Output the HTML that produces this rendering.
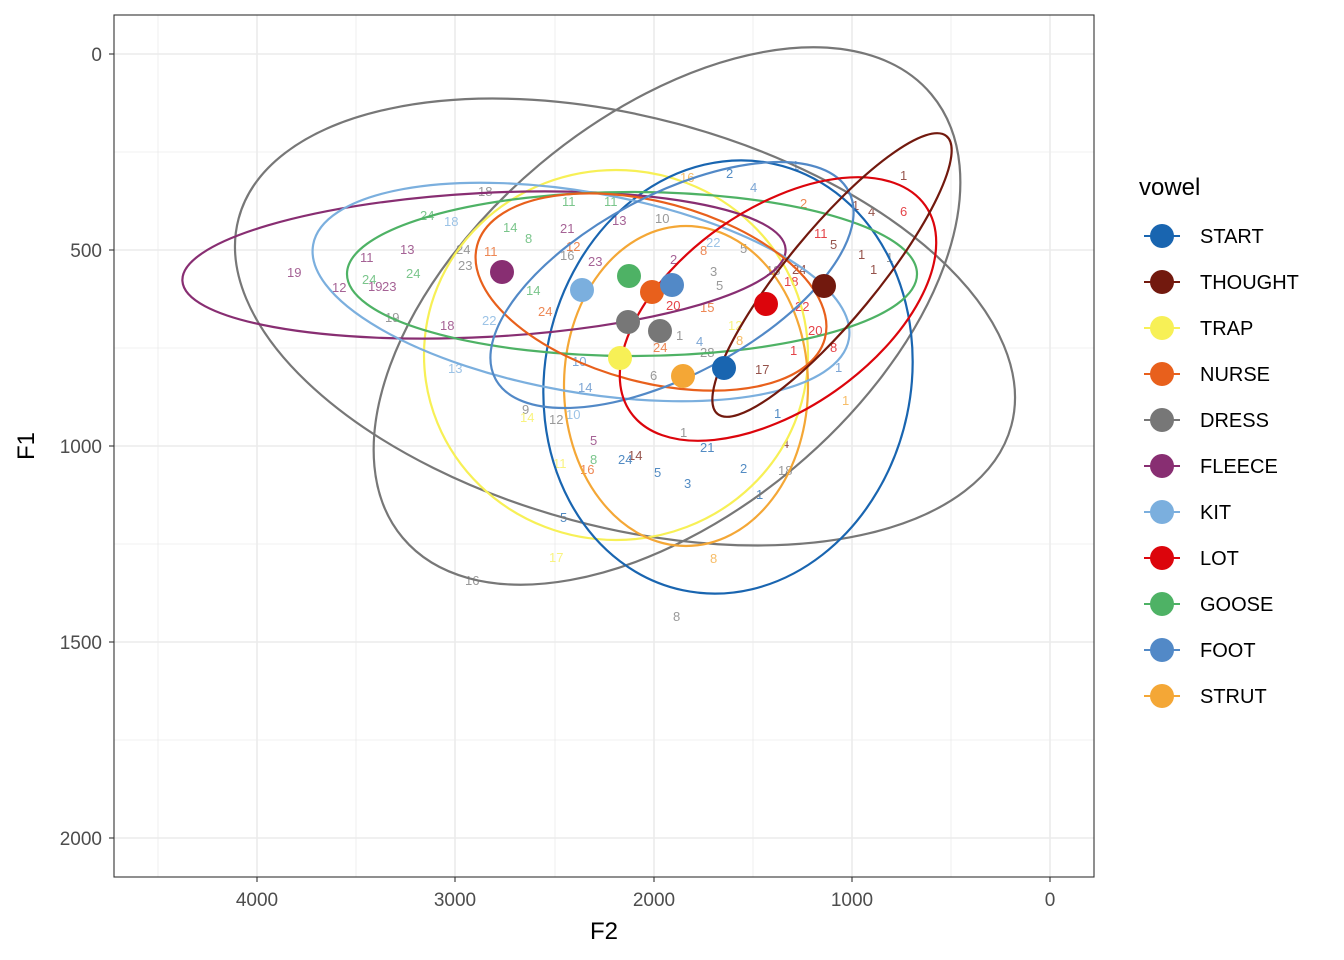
<!DOCTYPE html>
<html><head><meta charset="utf-8"><style>body{margin:0;background:#fff}svg{display:block;font-family:"Liberation Sans",sans-serif}</style></head>
<body>
<svg width="1344" height="960" xmlns="http://www.w3.org/2000/svg">
<rect width="1344" height="960" fill="#fff"/>
<g stroke="#ebebeb" stroke-width="0.8">
<line x1="158" y1="15" x2="158" y2="877"/><line x1="356" y1="15" x2="356" y2="877"/><line x1="555" y1="15" x2="555" y2="877"/><line x1="753" y1="15" x2="753" y2="877"/><line x1="951" y1="15" x2="951" y2="877"/>
<line x1="114" y1="152" x2="1094" y2="152"/><line x1="114" y1="348" x2="1094" y2="348"/><line x1="114" y1="544" x2="1094" y2="544"/><line x1="114" y1="740" x2="1094" y2="740"/>
</g>
<g stroke="#ebebeb" stroke-width="1.6">
<line x1="257" y1="15" x2="257" y2="877"/><line x1="455" y1="15" x2="455" y2="877"/><line x1="654" y1="15" x2="654" y2="877"/><line x1="852" y1="15" x2="852" y2="877"/><line x1="1050" y1="15" x2="1050" y2="877"/>
<line x1="114" y1="54" x2="1094" y2="54"/><line x1="114" y1="250" x2="1094" y2="250"/><line x1="114" y1="446" x2="1094" y2="446"/><line x1="114" y1="642" x2="1094" y2="642"/><line x1="114" y1="838" x2="1094" y2="838"/>
</g>
<g font-size="13" opacity="0.75">
<text x="287" y="277" fill="#882E72">19</text><text x="332" y="292" fill="#882E72">12</text><text x="360" y="262" fill="#882E72">11</text><text x="400" y="254" fill="#882E72">13</text><text x="368" y="291" fill="#882E72">19</text><text x="382" y="291" fill="#882E72">23</text>
<text x="362" y="284" fill="#4EB265">24</text><text x="406" y="278" fill="#4EB265">24</text><text x="440" y="330" fill="#882E72">18</text><text x="448" y="373" fill="#7BAFDE">13</text><text x="385" y="322" fill="#777">19</text>
<text x="478" y="196" fill="#777">18</text><text x="420" y="220" fill="#4EB265">24</text><text x="444" y="226" fill="#7BAFDE">18</text><text x="456" y="254" fill="#777">24</text><text x="458" y="270" fill="#777">23</text><text x="484" y="256" fill="#E8601C">11</text>
<text x="503" y="232" fill="#4EB265">14</text><text x="525" y="243" fill="#4EB265">8</text><text x="562" y="206" fill="#4EB265">11</text><text x="604" y="206" fill="#4EB265">11</text><text x="560" y="233" fill="#882E72">21</text><text x="612" y="225" fill="#882E72">13</text>
<text x="560" y="260" fill="#777">16</text><text x="566" y="251" fill="#E8601C">12</text><text x="588" y="266" fill="#882E72">23</text><text x="526" y="295" fill="#4EB265">14</text><text x="538" y="316" fill="#E8601C">24</text><text x="482" y="325" fill="#7BAFDE">22</text>
<text x="655" y="223" fill="#777">10</text><text x="670" y="264" fill="#882E72">2</text><text x="700" y="255" fill="#E8601C">8</text><text x="706" y="247" fill="#7BAFDE">22</text><text x="680" y="182" fill="#F4A736">16</text><text x="726" y="178" fill="#1965B0">2</text>
<text x="792" y="170" fill="#5289C7">1</text><text x="750" y="192" fill="#5289C7">4</text><text x="900" y="180" fill="#72190E">1</text><text x="900" y="216" fill="#DC050C">6</text><text x="852" y="210" fill="#72190E">1</text><text x="868" y="216" fill="#72190E">4</text>
<text x="800" y="208" fill="#E8601C">2</text><text x="814" y="238" fill="#DC050C">11</text><text x="830" y="249" fill="#72190E">5</text><text x="858" y="259" fill="#72190E">1</text><text x="870" y="274" fill="#72190E">1</text><text x="886" y="262" fill="#777">1</text>
<text x="792" y="274" fill="#72190E">24</text><text x="784" y="286" fill="#DC050C">18</text><text x="795" y="311" fill="#DC050C">22</text><text x="808" y="335" fill="#DC050C">20</text><text x="830" y="352" fill="#DC050C">8</text><text x="790" y="355" fill="#DC050C">1</text>
<text x="755" y="374" fill="#72190E">17</text><text x="835" y="372" fill="#5289C7">1</text><text x="842" y="405" fill="#F4A736">1</text><text x="774" y="418" fill="#1965B0">1</text><text x="782" y="448" fill="#72190E">4</text><text x="778" y="475" fill="#777">18</text>
<text x="740" y="473" fill="#1965B0">2</text><text x="756" y="499" fill="#1965B0">1</text><text x="700" y="452" fill="#1965B0">21</text><text x="680" y="437" fill="#777">1</text><text x="684" y="488" fill="#1965B0">3</text><text x="654" y="477" fill="#1965B0">5</text>
<text x="628" y="460" fill="#72190E">14</text><text x="618" y="464" fill="#1965B0">24</text><text x="590" y="445" fill="#882E72">5</text><text x="590" y="464" fill="#4EB265">8</text><text x="580" y="474" fill="#E8601C">16</text><text x="553" y="468" fill="#F7F056">11</text>
<text x="522" y="414" fill="#777">9</text><text x="520" y="422" fill="#F7F056">14</text><text x="549" y="424" fill="#777">12</text><text x="566" y="419" fill="#7BAFDE">10</text><text x="560" y="522" fill="#1965B0">5</text><text x="549" y="562" fill="#F7F056">17</text>
<text x="465" y="585" fill="#777">16</text><text x="710" y="563" fill="#F4A736">8</text><text x="673" y="621" fill="#777">8</text><text x="578" y="392" fill="#5289C7">14</text><text x="572" y="366" fill="#5289C7">10</text><text x="650" y="380" fill="#777">6</text>
<text x="653" y="352" fill="#E8601C">24</text><text x="666" y="310" fill="#DC050C">20</text><text x="700" y="312" fill="#E8601C">15</text><text x="736" y="345" fill="#F4A736">8</text><text x="728" y="330" fill="#F7F056">12</text><text x="696" y="346" fill="#5289C7">4</text>
<text x="710" y="276" fill="#777">3</text><text x="716" y="290" fill="#777">5</text><text x="740" y="253" fill="#777">5</text><text x="766" y="275" fill="#777">18</text><text x="676" y="340" fill="#777">1</text><text x="700" y="357" fill="#777">28</text>
</g>
<g fill="none" stroke-width="2.2">
<ellipse cx="625" cy="322" rx="400" ry="205" transform="rotate(15 625 322)" stroke="#777"/>
<ellipse cx="667" cy="316" rx="345" ry="198" transform="rotate(-40 667 316)" stroke="#777"/>
<ellipse cx="616" cy="355" rx="192" ry="185" stroke="#F7F056"/>
<ellipse cx="686" cy="386" rx="122" ry="160" stroke="#F4A736"/>
<ellipse cx="728" cy="377" rx="183" ry="218" transform="rotate(12 728 377)" stroke="#1965B0"/>
<ellipse cx="484" cy="265" rx="302" ry="72" transform="rotate(-3 484 265)" stroke="#882E72"/>
<ellipse cx="581" cy="292" rx="272" ry="100" transform="rotate(10 581 292)" stroke="#7BAFDE"/>
<ellipse cx="632" cy="274" rx="285" ry="82" stroke="#4EB265"/>
<ellipse cx="651" cy="292" rx="180" ry="90" transform="rotate(15 651 292)" stroke="#E8601C"/>
<ellipse cx="672" cy="285" rx="200" ry="90" transform="rotate(-28 672 285)" stroke="#5289C7"/>
<ellipse cx="778" cy="309" rx="180" ry="100" transform="rotate(-35 778 309)" stroke="#DC050C"/>
<ellipse cx="832" cy="275" rx="180" ry="45" transform="rotate(-50.5 832 275)" stroke="#72190E"/>
</g>
<g>
<circle cx="724" cy="368" r="12" fill="#1965B0"/><circle cx="824" cy="286" r="12" fill="#72190E"/><circle cx="620" cy="358" r="12" fill="#F7F056"/>
<circle cx="628" cy="322" r="12" fill="#777"/><circle cx="660" cy="331" r="12" fill="#777"/><circle cx="502" cy="272" r="12" fill="#882E72"/>
<circle cx="582" cy="290" r="12" fill="#7BAFDE"/><circle cx="766" cy="304" r="12" fill="#DC050C"/><circle cx="629" cy="276" r="12" fill="#4EB265"/>
<circle cx="652" cy="292" r="12" fill="#E8601C"/><circle cx="672" cy="285" r="12" fill="#5289C7"/><circle cx="683" cy="376" r="12" fill="#F4A736"/>
</g>
<rect x="114" y="15" width="980" height="862" fill="none" stroke="#333" stroke-width="1.1"/>
<g stroke="#333" stroke-width="1.1">
<line x1="257" y1="877" x2="257" y2="882"/><line x1="455" y1="877" x2="455" y2="882"/><line x1="654" y1="877" x2="654" y2="882"/><line x1="852" y1="877" x2="852" y2="882"/><line x1="1050" y1="877" x2="1050" y2="882"/>
<line x1="109" y1="54" x2="114" y2="54"/><line x1="109" y1="250" x2="114" y2="250"/><line x1="109" y1="446" x2="114" y2="446"/><line x1="109" y1="642" x2="114" y2="642"/><line x1="109" y1="838" x2="114" y2="838"/>
</g>
<g font-size="19" fill="#4d4d4d">
<g text-anchor="middle"><text x="257" y="906">4000</text><text x="455" y="906">3000</text><text x="654" y="906">2000</text><text x="852" y="906">1000</text><text x="1050" y="906">0</text></g>
<g text-anchor="end"><text x="102" y="61">0</text><text x="102" y="257">500</text><text x="102" y="453">1000</text><text x="102" y="649">1500</text><text x="102" y="845">2000</text></g>
</g>
<text x="604" y="939" font-size="24" text-anchor="middle">F2</text>
<text x="0" y="0" font-size="24" text-anchor="middle" transform="translate(34 446) rotate(-90)">F1</text>
<text x="1139" y="195" font-size="24">vowel</text>
<g font-size="20">
<g stroke-width="2"><line x1="1144" y1="236" x2="1180" y2="236" stroke="#1965B0"/><line x1="1144" y1="282" x2="1180" y2="282" stroke="#72190E"/><line x1="1144" y1="328" x2="1180" y2="328" stroke="#F7F056"/><line x1="1144" y1="374" x2="1180" y2="374" stroke="#E8601C"/><line x1="1144" y1="420" x2="1180" y2="420" stroke="#777"/><line x1="1144" y1="466" x2="1180" y2="466" stroke="#882E72"/><line x1="1144" y1="512" x2="1180" y2="512" stroke="#7BAFDE"/><line x1="1144" y1="558" x2="1180" y2="558" stroke="#DC050C"/><line x1="1144" y1="604" x2="1180" y2="604" stroke="#4EB265"/><line x1="1144" y1="650" x2="1180" y2="650" stroke="#5289C7"/><line x1="1144" y1="696" x2="1180" y2="696" stroke="#F4A736"/></g>
<circle cx="1162" cy="236" r="12" fill="#1965B0"/><circle cx="1162" cy="282" r="12" fill="#72190E"/><circle cx="1162" cy="328" r="12" fill="#F7F056"/><circle cx="1162" cy="374" r="12" fill="#E8601C"/><circle cx="1162" cy="420" r="12" fill="#777"/><circle cx="1162" cy="466" r="12" fill="#882E72"/><circle cx="1162" cy="512" r="12" fill="#7BAFDE"/><circle cx="1162" cy="558" r="12" fill="#DC050C"/><circle cx="1162" cy="604" r="12" fill="#4EB265"/><circle cx="1162" cy="650" r="12" fill="#5289C7"/><circle cx="1162" cy="696" r="12" fill="#F4A736"/>
<text x="1200" y="243">START</text><text x="1200" y="289">THOUGHT</text><text x="1200" y="335">TRAP</text><text x="1200" y="381">NURSE</text><text x="1200" y="427">DRESS</text><text x="1200" y="473">FLEECE</text><text x="1200" y="519">KIT</text><text x="1200" y="565">LOT</text><text x="1200" y="611">GOOSE</text><text x="1200" y="657">FOOT</text><text x="1200" y="703">STRUT</text>
</g>
</svg>
</body></html>
